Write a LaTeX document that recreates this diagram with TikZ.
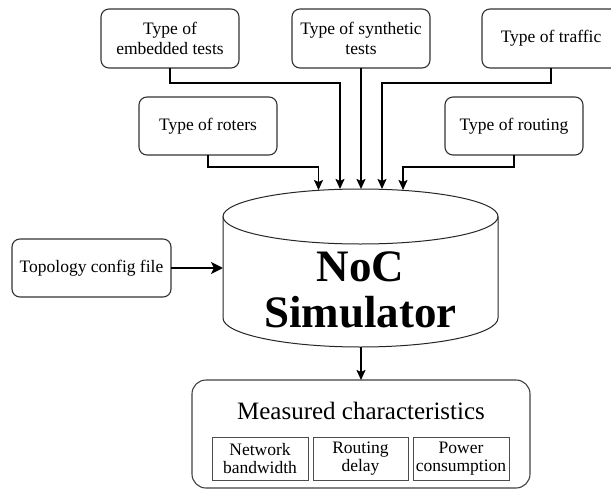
\documentclass[tikz,border=0pt]{standalone}
\usepackage{fontspec}
\setmainfont{Liberation Serif}
\usetikzlibrary{arrows.meta}
\begin{document}
\begin{tikzpicture}[x=1pt,y=-1pt,
  box/.style={draw=black!80, line width=1.1pt, rounded corners=8pt, inner sep=0pt, outer sep=0pt,
    align=center, font=\fontsize{17.5}{20}\selectfont, minimum width=138pt, minimum height=59pt},
  subbox/.style={draw=black!70, line width=1pt, inner sep=0pt, outer sep=0pt, align=center,
    font=\fontsize{17.5}{18.5}\selectfont, minimum height=43pt},
  conn/.style={line width=1.8pt, -{Stealth[length=10pt,width=9pt,inset=2pt]}},
  bigconn/.style={line width=2.8pt, -{Stealth[length=12pt,width=12pt,inset=3pt]}},
  cyl/.style={draw=black!85, line width=1pt},
  ]
\useasboundingbox (0,0) rectangle (611,490);

% cylinder (NoC Simulator)
\draw[cyl, fill=white] (223,216.5) -- (223,318)
  arc[start angle=180, end angle=360, x radius=137.5pt, y radius=29pt]
  -- (498,216.5);
\draw[cyl] (360.5,216.5) ellipse [x radius=137.5pt, y radius=27.5pt];
\node[inner sep=0pt, align=center, font=\fontsize{45}{46}\selectfont\bfseries] (sim) at (360.5,290) {NoC\\Simulator};
\coordinate (t1) at (318.5,190);
\coordinate (t2) at (340,189);
\coordinate (t3) at (361,189);
\coordinate (t4) at (382,189);
\coordinate (t5) at (403,190);
\coordinate (simleft) at (223,268);
\coordinate (simbot) at (361,347);

% input boxes
\node[box] (emb) at (170,38.5) {Type of\\embedded tests};
\node[box] (syn) at (361,38.5) {Type of synthetic\\tests};
\node[box] (traf) at (551,38.5) {Type of traffic};
\node[box, minimum height=58pt] (rot) at (208,126) {Type of roters};
\node[box, minimum height=58pt] (rout) at (514,126) {Type of routing};
\node[box, minimum width=159pt, minimum height=58pt] (topo) at (91.5,268) {Topology config file};

% measured characteristics
\node[draw=black!75, line width=1.1pt, rounded corners=14pt, minimum width=338pt, minimum height=108pt,
  inner sep=0pt, outer sep=0pt] (meas) at (361,434) {};
\node[inner sep=0pt, font=\fontsize{25}{30}\selectfont] (mtitle) at (361,410.5) {Measured characteristics};
\node[subbox, minimum width=96pt] (bw) at (260,458.5) {Network\\bandwidth};
\node[subbox, minimum width=95pt] (dl) at (360.5,458.5) {Routing\\delay};
\node[subbox, minimum width=96pt] (pw) at (461,458.5) {Power\\consumption};

% connectors
\draw[conn] (rot.south) -- ++(0,12) -| (t1);
\draw[conn] (emb.south) -- ++(0,15) -| (t2);
\draw[conn] (syn.south) -- (t3);
\draw[conn] (traf.south) -- ++(0,15) -| (t4);
\draw[conn] (rout.south) -- ++(0,12) -| (t5);
\draw[bigconn] (topo.east) -- (simleft);
\draw[conn] (simbot) -- (meas.north);
\end{tikzpicture}
\end{document}
